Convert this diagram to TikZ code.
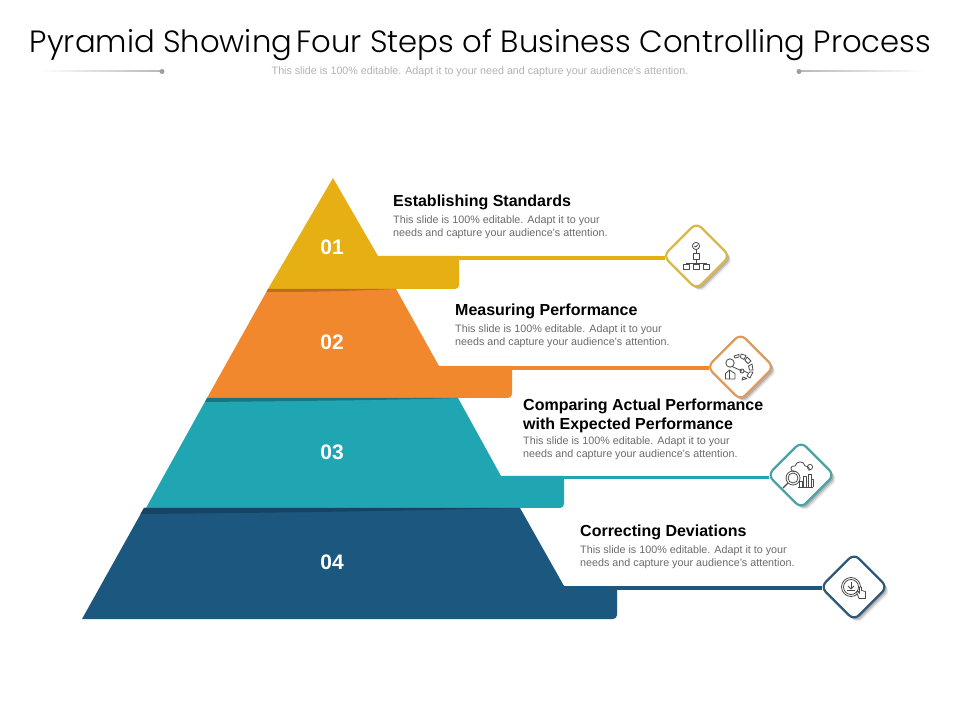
\documentclass[tikz,border=0pt]{standalone}
\usepackage{fontspec}
\setmainfont{Liberation Sans}
\newfontfamily\titlefont[UprightFont=* Light]{Poppins}
\usetikzlibrary{shadows,calc}
\definecolor{cA}{HTML}{E6AF14}
\definecolor{cB}{HTML}{F2882E}
\definecolor{cC}{HTML}{20A5B2}
\definecolor{cD}{HTML}{1C577F}
\definecolor{bA}{HTML}{D9B84A}
\definecolor{bB}{HTML}{E09A5C}
\definecolor{bC}{HTML}{4AA3A6}
\definecolor{bD}{HTML}{2F5878}
\definecolor{ico}{HTML}{4A4A4A}
\tikzset{
  x=1pt,y=1pt,
  tier/.style={fill=#1,draw=none},
  lead/.style={draw=#1,line width=3.6pt},
  badge/.style={rectangle,rounded corners=7pt,minimum size=47pt,rotate=45,fill=white,draw=#1,line width=2.2pt,
    drop shadow={shadow xshift=4pt,shadow yshift=-4pt,fill=black,opacity=.07},
    drop shadow={shadow xshift=3pt,shadow yshift=-3pt,fill=black,opacity=.12},
    drop shadow={shadow xshift=2pt,shadow yshift=-2pt,fill=black,opacity=.15}},
  num/.style={font=\bfseries\fontsize{21}{21}\selectfont,text=white,inner sep=0pt},
  head/.style={font=\bfseries\fontsize{16}{19}\selectfont,text=black,anchor=north west,inner sep=0pt,align=left},
  body/.style={font=\fontsize{10.75}{13.2}\selectfont,text=black!58,anchor=north west,inner sep=0pt,align=left},
  icon/.style={draw=ico,line width=.8pt,fill=none,line join=round},
  dotend/.style={circle,fill=black!38,inner sep=0pt,minimum size=5pt},
}
\begin{document}
\begin{tikzpicture}[x=1pt,y=1pt]
\useasboundingbox (0,0) rectangle (960,720);
\fill[white] (0,0) rectangle (960,720);
% title
\node[font=\titlefont\fontsize{30.7}{31}\selectfont,inner sep=0pt,anchor=base] (title) at (480.5,720-53) {Pyramid Showing\hspace{-4pt} Four Steps of Business Controlling Process};
\node[font=\fontsize{10.7}{11}\selectfont,text=black!30,inner sep=0pt,anchor=base] (sub) at (480,720-75) {This slide is 100\% editable.  Adapt it to your need and capture your audience's attention.};
\shade[left color=white,right color=black!28] (40,720-72) rectangle (162,720-71);
\shade[left color=black!28,right color=white] (799,720-72) rectangle (925,720-71);
\node[dotend] (dl) at (162,720-71.5) {};
\node[dotend] (dr) at (799,720-71.5) {};
% tiers
\fill[tier=cD] (144,720-508) -- (520,720-508) -- (564,720-586) -- (617,720-586) -- (617,720-615) to[out=-90,in=0] (613,720-619) -- (82,720-619) -- cycle;
\fill[tier=cC] (207,720-398) -- (458,720-398) -- (501,720-476) -- (564,720-476) -- (564,720-504) to[out=-90,in=0] (560,720-508) -- (146,720-508) -- cycle;
\fill[tier=cB] (268,720-289) -- (396,720-289) -- (439,720-366) -- (512,720-366) -- (512,720-394) to[out=-90,in=0] (508,720-398) -- (207,720-398) -- cycle;
\fill[tier=cA] (333,720-178) -- (378,720-256) -- (459,720-256) -- (459,720-285) to[out=-90,in=0] (455,720-289) -- (268,720-289) -- cycle;
% wedges
\fill[cD!78!black] (144,720-508) -- (520,720-508) .. controls (400,720-511) and (260,720-513) .. (140.5,720-514) -- cycle;
\fill[cC!72!black] (207,720-398) -- (458,720-398) .. controls (400,720-400) and (300,720-401) .. (205,720-402) -- cycle;
\fill[cB!78!black] (268,720-289) -- (396,720-289) .. controls (360,720-290.5) and (320,720-292) .. (266.5,720-292) -- cycle;
% numbers
\node[num] (n1) at (332,720-247) {01};
\node[num] (n2) at (332,720-342) {02};
\node[num] (n3) at (332,720-452) {03};
\node[num] (n4) at (332,720-562) {04};
% connectors
\coordinate (s1) at (378,720-258);
\coordinate (s2) at (439,720-368);
\coordinate (s3) at (501,720-477.5);
\coordinate (s4) at (564,720-588);
\node[badge=bA] (d1) at (696.5,720-256) {};
\node[badge=bB] (d2) at (740.5,720-367) {};
\node[badge=bC] (d3) at (801,720-475) {};
\node[badge=bD] (d4) at (854,720-587) {};
\draw[lead=cA] (s1) -- ($(s1 -| d1.north west)+(3,0)$);
\draw[lead=cB] (s2) -- ($(s2 -| d2.north west)+(3,0)$);
\draw[lead=cC] (s3) -- ($(s3 -| d3.north west)+(3,0)$);
\draw[lead=cD] (s4) -- ($(s4 -| d4.north west)+(3,0)$);
% texts
\node[head] (h1) at (393,720-194.4) {Establishing Standards};
\node[body] (b1) at (393,720-215.2) {This slide is 100\% editable.  Adapt it to your\\needs and capture your audience's attention.};
\node[head] (h2) at (455,720-303.4) {Measuring Performance};
\node[body] (b2) at (455,720-324.2) {This slide is 100\% editable.  Adapt it to your\\needs and capture your audience's attention.};
\node[head] (h3) at (523,720-398.5) {Comparing Actual Performance\\with Expected Performance};
\node[body] (b3) at (523,720-436.8) {This slide is 100\% editable.  Adapt it to your\\needs and capture your audience's attention.};
\node[head] (h4) at (580,720-524.4) {Correcting Deviations};
\node[body] (b4) at (580,720-545.2) {This slide is 100\% editable.  Adapt it to your\\needs and capture your audience's attention.};
% icon 1: org chart
\begin{scope}[icon,shift={(696,720-256)},yscale=-1]
\draw (0,-10) circle (3.6);
\draw (-1.5,-10) -- (-.3,-8.9) -- (1.6,-11.2);
\draw (0,-6.4) -- (0,-3);
\draw (-3,-3) rectangle (3,3);
\draw (0,3) -- (0,7);
\draw (-10,8) -- (-10,7) -- (10,7) -- (10,8);
\draw (0,7) -- (0,8);
\draw (-13,8) rectangle (-7,13);
\draw (-3,8) rectangle (3,13);
\draw (7,8) rectangle (13,13);
\end{scope}
% icon 2: person and linked segments
\begin{scope}[icon,shift={(740,720-367)},yscale=-1]
\draw (-10,-4) circle (4.2);
\draw (-14.5,12) -- (-14.5,6.5) -- (-10.5,3) -- (-5,6.5) -- (-5,12) -- cycle;
\draw (-10.5,3) -- (-10.5,12);
\draw (-8,-.5) -- (2,4);
\draw (2,4) circle (2);
\draw (4,4) -- (8,6);
\draw (-6,-11) -- (-1,-12.5) -- (-1,-10) -- (-5,-9) -- cycle;
\draw (1,-13) -- (6,-11.5) -- (4,-7.5) -- (.5,-9.5) -- cycle;
\draw (7,-10) -- (11,-6) -- (8,-3.5) -- (5,-6.5) -- cycle;
\draw (12,-3) -- (13,3) -- (9.5,3) -- (8.5,-1) -- cycle;
\draw (13,5) -- (10,11) -- (7,9) -- (9.5,5) -- cycle;
\draw (7,11.5) -- (2,13) -- (3,10) -- cycle;
\end{scope}
% icon 3: cloud, magnifier and bars
\begin{scope}[icon,shift={(801,720-475)},yscale=-1]
\draw (-6,-3) .. controls (-12,-4) and (-11,-10) .. (-6,-9) .. controls (-5,-14) and (3,-15) .. (4,-9) .. controls (7,-9) and (9,-7) .. (8,-4);
\draw (9,-8) circle (2.6);
\draw (-8,3) circle (7);
\draw (-8,3) circle (5);
\draw[line width=1.3pt] (-13,8) -- (-18,13);
\draw (-3,12) -- (12,12);
\draw (-2,12) -- (-2,6) -- (1,6) -- (1,12);
\draw (2.5,12) -- (2.5,1) -- (5.5,1) -- (5.5,12);
\draw (7,12) -- (7,-1) -- (10,-1) -- (10,12);
\draw (10,12) -- (10,4) -- (12.5,4) -- (12.5,12);
\end{scope}
% icon 4: download dial and hand
\begin{scope}[icon,shift={(853,720-587)},yscale=-1]
\draw (-2,0) circle (9.5);
\draw (-2,0) circle (7.5);
\draw (-2,-5) -- (-2,1);
\draw (-5,-1) -- (-2,2) -- (1,-1);
\draw (-6,3.5) -- (2,3.5);
\draw[fill=white] (6,11.5) -- (3.5,5) -- (5,4.2) -- (6.5,6.5) -- (6.5,.5) .. controls (6.5,-1) and (8.5,-1) .. (8.5,.5) -- (8.5,3.5) -- (12.5,4.5) -- (12.5,11.5) -- cycle;
\end{scope}
\end{tikzpicture}
\end{document}
